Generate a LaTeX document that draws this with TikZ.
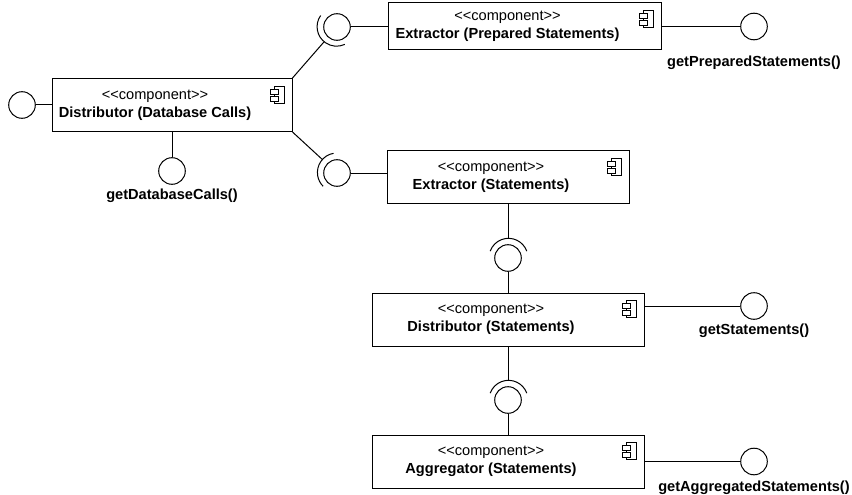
\documentclass[tikz,border=0pt]{standalone}
\usepackage{fontspec}
\setmainfont{Liberation Sans}
\usetikzlibrary{positioning}

\tikzset{
    compicon/.pic={
        \draw[line width=0.8pt] (-18,-8) rectangle (-8,-25);
        \draw[line width=0.8pt, fill=white] (-22,-11) rectangle (-14,-16);
        \draw[line width=0.8pt, fill=white] (-22,-18) rectangle (-14,-23);
    }
}

\begin{document}
\begin{tikzpicture}[x=1pt, y=1pt, line width=1pt,
        every node/.style={font=\fontsize{14.6}{18}\selectfont},
        compbox/.style={rectangle, draw, minimum height=53pt, inner sep=0pt},
        comptext/.style={align=center, inner sep=0pt},
        lolli/.style={circle, draw, minimum size=26.6pt, inner sep=0pt},
        sockring/.style={circle, minimum size=39pt, inner sep=0pt},
        iface/.style={font=\fontsize{14.6}{18}\selectfont\bfseries, inner sep=0pt}
    ]
        \useasboundingbox (0,0) rectangle (852,-495);

        % components
        \node[compbox, minimum width=240pt] (distdb) at (172,-105) {};
        \node[comptext] (distdbtxt) at ([xshift=-17pt]distdb.center) {<{}<component>{}>\\ \textbf{Distributor (Database Calls)}};
        \pic at (distdb.north east) {compicon};

        \node[compbox, minimum width=273pt, minimum height=47pt] (extps) at (524.5,-26.5) {};
        \node[comptext] (extpstxt) at ([xshift=-17pt]extps.center) {<{}<component>{}>\\ \textbf{Extractor (Prepared Statements)}};
        \pic at (extps.north east) {compicon};

        \node[compbox, minimum width=242pt] (extst) at (508,-177) {};
        \node[comptext] (extsttxt) at ([xshift=-17pt]extst.center) {<{}<component>{}>\\ \textbf{Extractor (Statements)}};
        \pic at (extst.north east) {compicon};

        \node[compbox, minimum width=272pt] (distst) at (508,-319.5) {};
        \node[comptext] (disttxt) at ([xshift=-17pt]distst.center) {<{}<component>{}>\\ \textbf{Distributor (Statements)}};
        \pic at (distst.north east) {compicon};

        \node[compbox, minimum width=272pt] (aggst) at (508,-461.5) {};
        \node[comptext] (aggsttxt) at ([xshift=-17pt]aggst.center) {<{}<component>{}>\\ \textbf{Aggregator (Statements)}};
        \pic at (aggst.north east) {compicon};

        % provided interfaces
        \node[lolli] (leftdb) at (22,-105) {};
        \draw (distdb) -- (leftdb);

        \node[lolli] (getdb) at (172,-171) {};
        \node[iface] (getdblbl) at (172,-196) {getDatabaseCalls()};
        \draw (distdb) -- (getdb);

        \node[lolli] (getps) at (754,-26.5) {};
        \node[iface] (getpslbl) at (754,-63) {getPreparedStatements()};
        \draw (extps) -- (getps);

        \node[lolli] (getst) at (754,-306) {};
        \node[iface] (getstlbl) at (754,-331) {getStatements()};
        \draw (getst -| distst.east) -- (getst);

        \node[lolli] (getagg) at (754,-461.5) {};
        \node[iface] (getagglbl) at (754,-488) {getAggregatedStatements()};
        \draw (aggst) -- (getagg);

        % required interfaces (sockets)
        \node[lolli] (sockps) at (337,-27) {};
        \node[sockring] (sockpsr) at (sockps) {};
        \draw (sockps) -- (sockps -| extps.west);
        \draw (distdb.north east) -- (sockpsr);
        \draw (sockpsr.145) arc[start angle=145, end angle=295, radius=19.5];

        \node[lolli] (sockst) at (337,-173) {};
        \node[sockring] (sockstr) at (sockst) {};
        \draw (sockst) -- (sockst -| extst.west);
        \draw (distdb.south east) -- (sockstr);
        \draw (sockstr.100) arc[start angle=100, end angle=225, radius=19.5];

        \node[lolli] (sockdist) at (508,-258) {};
        \node[sockring] (sockdistr) at (sockdist) {};
        \draw (extst) -- (sockdistr);
        \draw (sockdist) -- (distst);
        \draw (sockdistr.20) arc[start angle=20, end angle=160, radius=19.5];

        \node[lolli] (sockagg) at (508,-400) {};
        \node[sockring] (sockaggr) at (sockagg) {};
        \draw (distst) -- (sockaggr);
        \draw (sockagg) -- (aggst);
        \draw (sockaggr.20) arc[start angle=20, end angle=160, radius=19.5];
    \end{tikzpicture}
\end{document}
